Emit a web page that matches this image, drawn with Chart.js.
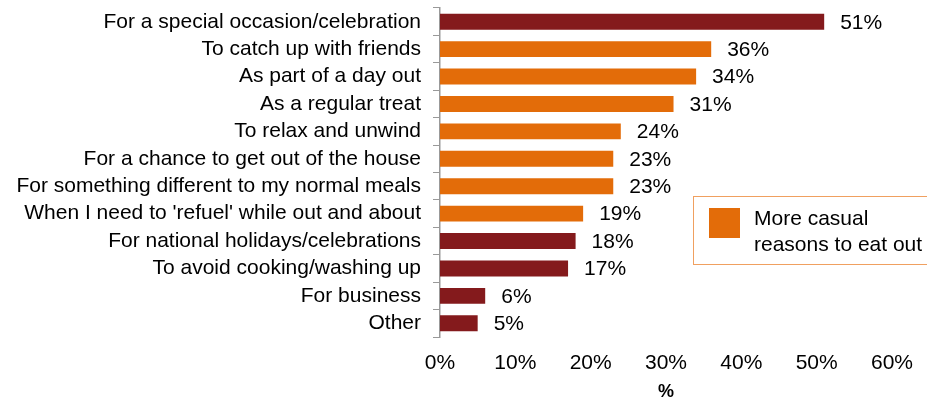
<!DOCTYPE html>
<html>
<head>
<meta charset="utf-8">
<script src="https://cdn.jsdelivr.net/npm/chart.js@4"></script>
<style>
  html, body { margin: 0; padding: 0; background: #fff; }
  #wrap { position: relative; width: 927px; height: 403px; }
</style>
</head>
<body>
<div id="wrap"><canvas id="reasonsChart"></canvas></div>
<script>
const reasons = [
  'For a special occasion/celebration',
  'To catch up with friends',
  'As part of a day out',
  'As a regular treat',
  'To relax and unwind',
  'For a chance to get out of the house',
  'For something different to my normal meals',
  "When I need to 'refuel' while out and about",
  'For national holidays/celebrations',
  'To avoid cooking/washing up',
  'For business',
  'Other'
];
const shares = [51, 36, 34, 31, 24, 23, 23, 19, 18, 17, 6, 5];
const isCasual = [false, true, true, true, true, true, true, true, false, false, false, false];
const xTicks = [0, 10, 20, 30, 40, 50, 60];

const DARK_RED = '#841a1c';
const ORANGE = '#e36c09';
const FONT = 'Arial, "Liberation Sans", sans-serif';

// value labels at the end of each bar
const valueLabels = {
  id: 'valueLabels',
  afterDatasetsDraw(chart) {
    const ctx = chart.ctx;
    const meta = chart.getDatasetMeta(0);
    ctx.save();
    ctx.font = '21px ' + FONT;
    ctx.fillStyle = '#000';
    ctx.textAlign = 'left';
    ctx.textBaseline = 'middle';
    meta.data.forEach((bar, i) => {
      ctx.fillText(shares[i] + '%', bar.x + 16, bar.y + 1);
    });
    ctx.restore();
  }
};

// boxed legend for the orange bars
const casualLegend = {
  id: 'casualLegend',
  afterDraw(chart) {
    const ctx = chart.ctx;
    ctx.save();
    ctx.strokeStyle = '#f0a060';
    ctx.lineWidth = 1;
    ctx.strokeRect(693.5, 196.5, 260, 68);
    ctx.fillStyle = ORANGE;
    ctx.fillRect(709, 208, 31, 30);
    ctx.font = '21px ' + FONT;
    ctx.fillStyle = '#000';
    ctx.textBaseline = 'middle';
    ctx.fillText('More casual', 754, 219);
    ctx.fillText('reasons to eat out', 754, 245);
    ctx.restore();
  }
};

new Chart(document.getElementById('reasonsChart'), {
  type: 'bar',
  data: {
    labels: reasons,
    datasets: [{
      data: shares,
      backgroundColor: isCasual.map(c => c ? ORANGE : DARK_RED),
      categoryPercentage: 1,
      barPercentage: 0.58
    }]
  },
  options: {
    indexAxis: 'y',
    responsive: true,
    maintainAspectRatio: false,
    animation: false,
    layout: { padding: { top: 8, right: 34, bottom: 0, left: 0 } },
    plugins: {
      legend: { display: false },
      tooltip: { enabled: false }
    },
    scales: {
      x: {
        min: 0,
        max: 60,
        afterBuildTicks: axis => { axis.ticks = xTicks.map(v => ({ value: v })); },
        afterFit: axis => { axis.height = 66; },
        grid: { display: false, drawTicks: false },
        border: { display: false },
        ticks: {
          padding: 14,
          color: '#000',
          font: { size: 21, family: FONT },
          callback: v => v + '%'
        },
        title: {
          display: true,
          text: '%',
          color: '#000',
          padding: { top: 0, bottom: 0 },
          font: { size: 18, weight: 'bold', family: FONT }
        }
      },
      y: {
        afterFit: axis => {
          axis.width = 440;
          axis.paddingTop = 0;
          axis.paddingBottom = 0;
        },
        grid: {
          display: true,
          drawOnChartArea: false,
          offset: true,
          tickLength: 7,
          color: '#999'
        },
        border: { display: true, color: '#999', width: 1.5 },
        ticks: {
          autoSkip: false,
          padding: 12,
          color: '#000',
          font: { size: 21, family: FONT }
        }
      }
    }
  },
  plugins: [valueLabels, casualLegend]
});
</script>
</body>
</html>
